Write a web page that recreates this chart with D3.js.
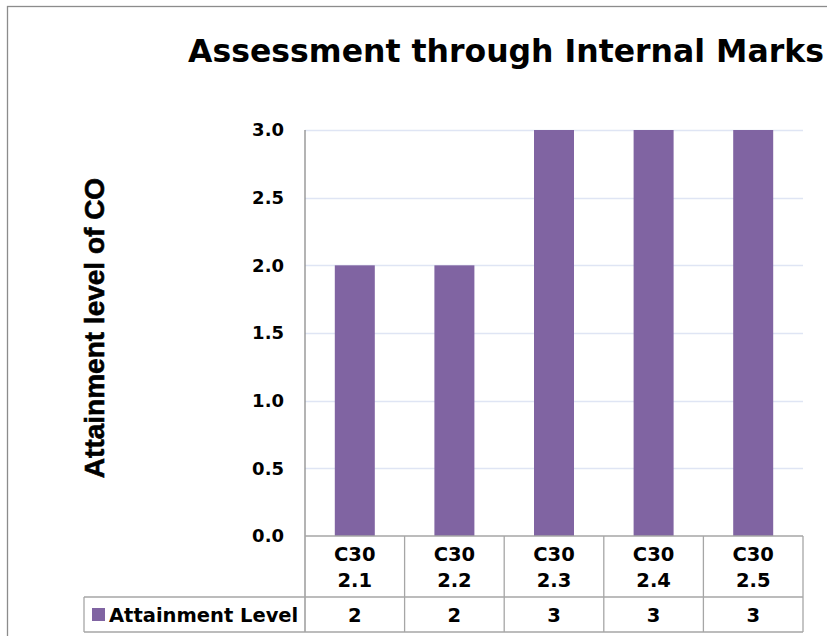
<!DOCTYPE html>
<head>
  <meta charset="utf-8">
  <script src="https://d3js.org/d3.v7.min.js"></script>
  <style>
    body { margin:0; background:#fff; }
    text { font-family: "DejaVu Sans", Verdana, sans-serif; font-weight: bold; fill: #000; }
  </style>
</head>
<body>
  <script>
    var width = 827, height = 636;

    // chart data
    var categories = ["C30 2.1", "C30 2.2", "C30 2.3", "C30 2.4", "C30 2.5"];
    var values = [2, 2, 3, 3, 3];
    var seriesName = "Attainment Level";
    var yTicks = [0, 0.5, 1.0, 1.5, 2.0, 2.5, 3.0];
    var title = "Assessment through Internal Marks";
    var yTitle = "Attainment level of CO";

    var barColor = "#8064a2";
    var plot = {left: 305, right: 803, top: 130, bottom: 536};
    var rowCat = 597, rowEnd = 632;

    var svg = d3.select("body").append("svg")
      .attr("width", width)
      .attr("height", height)

    // outer chart frame
    svg.append("rect")
      .attr("x", 7.5).attr("y", 6.5)
      .attr("width", 840).attr("height", 660)
      .attr("fill", "#fff").attr("stroke", "#8c8c8c").attr("stroke-width", 1.3)

    var x = d3.scaleBand().domain(categories).range([plot.left, plot.right]).padding(0)
    var y = d3.scaleLinear().domain([0, 3]).range([plot.bottom, plot.top])

    // gridlines
    svg.append("g").selectAll("line").data(yTicks.slice(1)).enter().append("line")
      .attr("x1", plot.left).attr("x2", plot.right)
      .attr("y1", function(d) { return Math.round(y(d)) + 0.5 })
      .attr("y2", function(d) { return Math.round(y(d)) + 0.5 })
      .attr("stroke", "#dfe5f4").attr("stroke-width", 1.3)

    // bars
    var barW = 40;
    svg.append("g").selectAll("rect").data(values).enter().append("rect")
      .attr("x", function(d, i) { return x(categories[i]) + x.bandwidth() / 2 - barW / 2 })
      .attr("width", barW)
      .attr("y", function(d) { return y(d) })
      .attr("height", function(d) { return y(0) - y(d) })
      .attr("fill", barColor)

    // y axis labels
    var yAxis = d3.axisLeft(y).tickValues(yTicks).tickFormat(d3.format(".1f")).tickSize(0).tickPadding(20)
    var ya = svg.append("g").attr("transform", "translate(" + plot.left + ",0)").call(yAxis)
    ya.select(".domain").remove()
    ya.selectAll("text").style("font-size", "18px").style("font-family", null).attr("fill", "#000")
      .attr("dx", -1)

    // data table
    var grid = svg.append("g").attr("stroke", "#a6a6a6").attr("stroke-width", 1.3).attr("fill", "none")
    grid.append("line").attr("x1", plot.left).attr("x2", plot.left).attr("y1", plot.top).attr("y2", rowEnd).attr("stroke", "#8c8c8c")
    categories.forEach(function(c) {
      grid.append("line").attr("x1", x(c) + x.bandwidth()).attr("x2", x(c) + x.bandwidth())
        .attr("y1", plot.bottom).attr("y2", rowEnd)
    })
    grid.append("line").attr("x1", plot.left).attr("x2", plot.right).attr("y1", plot.bottom).attr("y2", plot.bottom)
    grid.append("line").attr("x1", 84).attr("x2", plot.right).attr("y1", rowCat).attr("y2", rowCat)
    grid.append("line").attr("x1", 84).attr("x2", plot.right).attr("y1", rowEnd).attr("y2", rowEnd)
    grid.append("line").attr("x1", 84).attr("x2", 84).attr("y1", rowCat).attr("y2", rowEnd)

    // category labels
    var cat = svg.append("g").selectAll("text").data(categories).enter().append("text")
      .attr("x", function(d) { return x(d) + x.bandwidth() / 2 })
      .attr("text-anchor", "middle")
      .style("font-size", "19.5px")
    cat.append("tspan").attr("x", function(d) { return x(d) + x.bandwidth() / 2 }).attr("y", 561)
      .text(function(d) { return d.split(" ")[0] })
    cat.append("tspan").attr("x", function(d) { return x(d) + x.bandwidth() / 2 }).attr("y", 587)
      .text(function(d) { return d.split(" ")[1] })

    // value row
    svg.append("g").selectAll("text").data(values).enter().append("text")
      .attr("x", function(d, i) { return x(categories[i]) + x.bandwidth() / 2 })
      .attr("y", 622)
      .attr("text-anchor", "middle")
      .style("font-size", "19.5px")
      .text(function(d) { return d })

    // legend key in table
    svg.append("rect").attr("x", 92).attr("y", 608).attr("width", 13).attr("height", 13).attr("fill", barColor)
    svg.append("text").attr("x", 109).attr("y", 622).style("font-size", "19.5px").text(seriesName)

    // titles
    svg.append("text").attr("x", 506).attr("y", 62).attr("text-anchor", "middle")
      .style("font-size", "31.5px").text(title)
    svg.append("text")
      .attr("transform", "translate(104,328)rotate(-90)")
      .attr("text-anchor", "middle")
      .attr("stroke", "#000").attr("stroke-width", 0.6)
      .style("font-family", "'Liberation Sans', Arial, sans-serif")
      .style("font-size", "28px").text(yTitle)
  </script>
</body>
</html>
